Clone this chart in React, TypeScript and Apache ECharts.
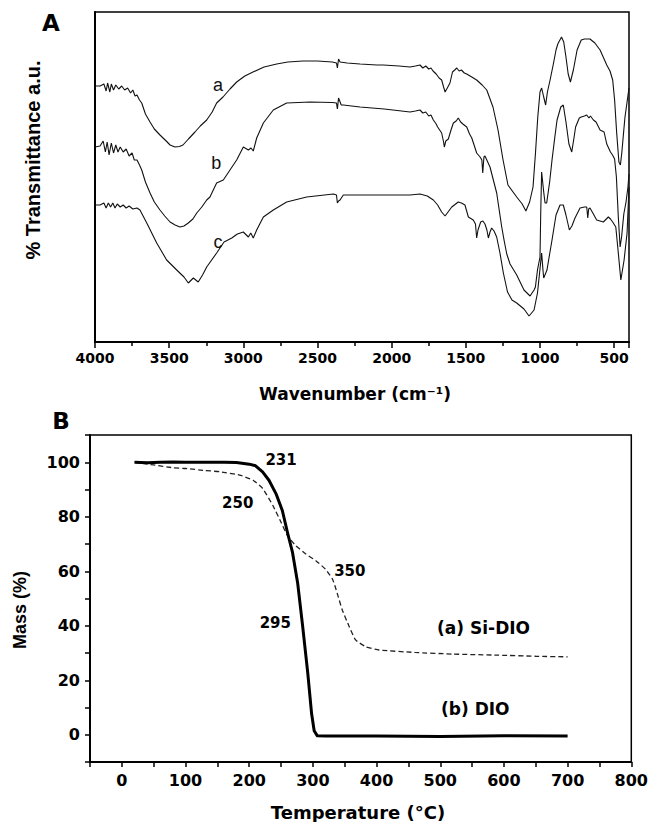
import React, { useEffect, useRef } from "react";
import * as echarts from "echarts";

// ---------- Panel A: FTIR spectra [wavenumber cm-1, transmittance a.u.] ----------
const irA: number[][] = [
  [4000,256],[3966,256],[3940,258],[3925,251],[3915,259],[3900,250],[3890,258],[3875,252],[3860,257],[3840,253],[3820,256],[3800,252],[3780,254],[3760,249],[3745,252],[3730,246],[3717,247],[3700,242],[3685,239],[3660,228],[3629,220],[3600,213],[3562,207],[3520,201],[3494,197],[3461,195],[3430,195.5],[3407,197],[3370,203],[3326,210],[3290,216],[3247,222],[3210,230],[3180,239],[3137,245],[3090,253],[3045,260],[2990,266],[2935,270],[2860,275],[2775,278],[2700,280],[2598,281],[2500,281],[2400,280],[2372,279],[2366,274],[2358,283],[2348,280],[2300,279],[2213,278],[2100,277],[2058,277],[1950,276],[1876,275],[1840,276],[1809,277],[1790,274],[1770,276],[1750,273],[1735,274],[1721,271],[1700,268],[1680,264],[1663,262],[1650,255],[1640,250],[1625,254],[1607,259],[1590,270],[1575,272],[1561,274],[1545,271],[1530,272],[1510,269],[1494,268],[1460,265],[1427,262],[1390,257],[1359,252],[1317,235],[1283,212],[1249,182],[1216,157],[1157,145],[1120,138],[1095,131],[1070,140],[1047,155],[1030,190],[1015,225],[1000,250],[989,254],[975,245],[962,237],[950,250],[932,262],[910,278],[892,292],[880,298],[855,305],[840,300],[825,285],[810,268],[795,260],[775,272],[750,292],[722,302],[700,303],[663,303],[630,299],[595,292],[568,283],[550,277],[528,271],[510,262],[497,242],[483,209],[468,180],[458,177],[448,190],[435,212],[427,225],[413,240],[400,254]
];
const irB: number[][] = [
  [4000,195],[3966,196],[3945,201],[3930,190],[3918,200],[3905,187],[3890,199],[3875,189],[3860,197],[3845,190],[3830,195],[3810,190],[3790,193],[3770,186],[3750,189],[3735,182],[3717,182],[3700,177],[3685,172],[3660,160],[3629,149],[3600,140],[3562,132],[3530,126],[3494,120],[3460,117],[3427,115],[3400,116],[3371,119],[3340,123],[3314,129],[3280,135],[3247,142],[3225,145],[3180,159],[3135,162],[3090,172],[3045,182],[3000,195],[2966,192],[2948,194],[2933,191],[2910,204],[2865,219],[2798,232],[2708,239],[2550,240],[2400,239.5],[2372,239],[2366,233],[2358,244],[2340,237],[2326,237],[2213,235],[2050,233],[1876,230],[1840,231],[1809,232],[1790,229],[1770,230],[1750,226],[1735,227],[1719,222],[1700,218],[1690,215],[1663,209],[1650,200],[1645,195],[1635,201],[1618,203],[1600,212],[1584,219],[1565,221],[1551,224],[1535,220],[1520,218],[1494,215],[1475,208],[1460,204],[1440,195],[1427,189],[1404,185],[1392,182],[1386,169],[1378,185],[1371,186],[1337,175],[1292,149],[1258,115],[1240,100],[1224,88],[1202,78],[1157,67],[1108,52],[1067,46],[1040,52],[1031,55],[1017,72],[1000,85],[995,130],[989,170],[975,150],[966,139],[955,139],[935,160],[919,182],[900,205],[885,222],[860,235],[843,237],[825,220],[805,198],[786,190],[770,205],[760,215],[735,224],[722,225],[700,226],[685,227],[670,224],[660,226],[640,222],[622,220],[595,212],[568,210],[550,198],[525,190],[511,187],[497,183],[485,165],[472,125],[460,95],[450,105],[435,128],[420,140],[407,155],[400,168]
];
const irC: number[][] = [
  [4000,137],[3966,137],[3940,139],[3925,134],[3910,139],[3895,135],[3880,139],[3865,134],[3850,138],[3830,135],[3810,137],[3790,134],[3770,136],[3745,133],[3717,134],[3697,132],[3651,119],[3584,99],[3517,82],[3449,72],[3400,65],[3371,59],[3337,64],[3304,60],[3275,67],[3247,75],[3180,89],[3130,100],[3078,104],[3040,108],[3000,110],[2966,105],[2950,109],[2933,104],[2910,112],[2865,125],[2798,132],[2708,140],[2573,145],[2393,148],[2372,147],[2366,139],[2358,141],[2348,142],[2326,147],[2213,147],[1876,147],[1809,148],[1760,146],[1719,142],[1690,137],[1663,130],[1640,126],[1615,131],[1595,135],[1551,140],[1530,139],[1506,137],[1483,125],[1450,122],[1435,118],[1427,104],[1418,112],[1400,120],[1385,121],[1371,118],[1358,112],[1348,104],[1337,110],[1326,114],[1310,111],[1292,105],[1270,89],[1247,69],[1219,50],[1189,42],[1157,39],[1108,33],[1074,26],[1040,32],[1017,49],[1003,69],[989,89],[980,72],[975,64],[953,72],[935,88],[919,102],[892,127],[865,137],[843,137],[825,127],[802,112],[785,116],[764,124],[730,134],[700,135],[685,135],[678,124],[672,133],[663,134],[640,128],[618,122],[595,121],[573,120],[539,125],[525,123],[510,120],[489,115],[474,92],[455,62],[433,82],[413,109],[400,155]
];
const irCurveLabels: [string, number, number][] = [["a", 3171, 257], ["b", 3182, 179], ["c", 3171, 100]];
const irTickLabels = [4000, 3500, 3000, 2500, 2000, 1500, 1000, 500];

// ---------- Panel B: TGA [temperature °C, mass %] ----------
const tgaSiDIO: number[][] = [
  [20,100],[50,99],[80,98],[100,97.7],[130,97],[154,96.5],[185,95.3],[206,93.4],[221,90.4],[237,84.2],[250,78],[260,73.1],[273,69.4],[289,66.3],[305,63.8],[320,60.7],[331,57],[338,52.1],[346,45.9],[357,39.7],[367,34.8],[383,32.3],[404,31.1],[460,30.2],[520,29.6],[591,29.2],[650,28.8],[700,28.6]
];
const tgaDIO: number[][] = [
  [20,100],[40,99.8],[60,100],[80,100.1],[100,100],[120,100],[140,100],[160,100],[180,99.9],[200,99.3],[210,98.7],[221,96.5],[231,93.4],[242,88.5],[252,82.3],[260,74.3],[268,66.9],[276,55.8],[284,39.7],[292,22.5],[298,7.7],[302,1.5],[307,-0.4],[320,-0.5],[400,-0.5],[500,-0.6],[600,-0.4],[700,-0.5]
];
const tgaNotes: [string, number, number][] = [
  ["231", 250, 100.7], ["250", 182, 85], ["350", 358, 60], ["295", 241, 41]
];
const tgaLegends: [string, number, number][] = [["(a) Si-DIO", 568, 39], ["(b) DIO", 555, 9.6]];
const tgaXTickLabels = [0, 100, 200, 300, 400, 500, 600, 700, 800];
const tgaYTickLabels = [0, 20, 40, 60, 80, 100];

const HFONT = "DejaVu Sans";
const VFONT = "Liberation Sans";

export default function App() {
  const ref = useRef<HTMLDivElement>(null);
  useEffect(() => {
    if (!ref.current) return;
    const chart = echarts.init(ref.current, null, { renderer: "svg" });
    const black = "#000";
    const textScatter = (data: [string, number, number][], xi: number, font: any, neg: boolean) => ({
      type: "scatter", xAxisIndex: xi, yAxisIndex: xi, silent: true, symbolSize: 0,
      itemStyle: { opacity: 1 },
      data: data.map(([t, x, y]) => ({ name: t, value: [neg ? -x : x, y] })),
      label: { show: true, position: "inside", formatter: "{b}", opacity: 1, ...font },
    });
    const option: any = {
      animation: false,
      backgroundColor: "#fff",
      grid: [
        { left: 95, top: 12, width: 534, height: 330, show: true, borderColor: black, borderWidth: 1.5, backgroundColor: "transparent" },
        { left: 90, top: 435, width: 544, height: 327, show: true, borderColor: black, borderWidth: 1.5, backgroundColor: "transparent" },
      ],
      xAxis: [
        {
          type: "value", gridIndex: 0, min: -4000, max: -400, interval: 500,
          axisLine: { onZero: false, lineStyle: { color: black, width: 2 } },
          axisTick: { show: true, length: 6, lineStyle: { color: black, width: 1.5 } },
          minorTick: { show: true, splitNumber: 2, length: 4, lineStyle: { color: black, width: 1.5 } },
          splitLine: { show: false }, minorSplitLine: { show: false },
          axisLabel: {
            formatter: (v: number) => (irTickLabels.includes(-v) ? String(-v) : ""),
            fontFamily: HFONT, fontWeight: "bold", fontSize: 14, color: black, margin: 9, showMaxLabel: false,
          },
        },
        {
          type: "value", gridIndex: 1, min: -50, max: 800, interval: 50,
          axisLine: { onZero: false, lineStyle: { color: black, width: 2 } },
          axisTick: { show: true, length: 5, lineStyle: { color: black, width: 1.5 } },
          splitLine: { show: false },
          axisLabel: {
            formatter: (v: number) => (tgaXTickLabels.includes(v) ? String(v) : ""),
            fontFamily: HFONT, fontWeight: "bold", fontSize: 16, color: black, margin: 10,
          },
        },
      ],
      yAxis: [
        {
          type: "value", gridIndex: 0, min: 0, max: 330,
          axisLine: { show: true, onZero: false, lineStyle: { color: black, width: 2 } },
          axisTick: { show: false }, axisLabel: { show: false }, splitLine: { show: false },
        },
        {
          type: "value", gridIndex: 1, min: -10, max: 110, interval: 10,
          axisLine: { show: true, onZero: false, lineStyle: { color: black, width: 2 } },
          axisTick: { show: true, length: 5, lineStyle: { color: black, width: 1.5 } },
          splitLine: { show: false },
          axisLabel: {
            formatter: (v: number) => (tgaYTickLabels.includes(v) ? String(v) : ""),
            fontFamily: HFONT, fontWeight: "bold", fontSize: 16, color: black, margin: 10,
          },
        },
      ],
      series: [
        ...[irA, irB, irC].map((d) => ({
          type: "line", xAxisIndex: 0, yAxisIndex: 0, silent: true, showSymbol: false, symbol: "none",
          data: d.map(([w, v]) => [-w, v]),
          lineStyle: { color: "#111", width: 1.1 },
        })),
        textScatter(irCurveLabels, 0, { fontFamily: VFONT, fontSize: 18, color: "#111" }, true),
        {
          type: "line", xAxisIndex: 1, yAxisIndex: 1, silent: true, showSymbol: false, symbol: "none",
          data: tgaSiDIO, smooth: 0.15,
          lineStyle: { color: "#222", width: 1.3, type: [5, 3] },
        },
        {
          type: "line", xAxisIndex: 1, yAxisIndex: 1, silent: true, showSymbol: false, symbol: "none",
          data: tgaDIO,
          lineStyle: { color: black, width: 3, join: "round" },
        },
        textScatter(tgaNotes, 1, { fontFamily: HFONT, fontWeight: "bold", fontSize: 15, color: "#000" }, false),
        textScatter(tgaLegends, 1, { fontFamily: HFONT, fontWeight: "bold", fontSize: 17, color: "#000" }, false),
      ],
      graphic: [
        { type: "text", x: 51, y: 23, style: { text: "A", font: `bold 23px "${HFONT}"`, fill: black, align: "center", verticalAlign: "middle" } },
        { type: "text", x: 61, y: 421, style: { text: "B", font: `bold 23px "${HFONT}"`, fill: black, align: "center", verticalAlign: "middle" } },
        { type: "text", x: 33, y: 160, rotation: Math.PI / 2, style: { text: "% Transmittance a.u.", font: `bold 20px "${VFONT}"`, fill: black, align: "center", verticalAlign: "middle" } },
        { type: "text", x: 355, y: 394, style: { text: "Wavenumber (cm⁻¹)", font: `bold 17px "${HFONT}"`, fill: black, align: "center", verticalAlign: "middle" } },
        { type: "text", x: 358, y: 812, style: { text: "Temperature (°C)", font: `bold 18px "${HFONT}"`, fill: black, align: "center", verticalAlign: "middle" } },
        { type: "text", x: 20, y: 610, rotation: Math.PI / 2, style: { text: "Mass (%)", font: `bold 18px "${VFONT}"`, fill: black, align: "center", verticalAlign: "middle" } },
      ],
    };
    chart.setOption(option);
    return () => chart.dispose();
  }, []);
  return (
    <div
      ref={ref}
      style={{ position: "fixed", left: 0, top: 0, width: 651, height: 822, background: "#fff" }}
    />
  );
}
